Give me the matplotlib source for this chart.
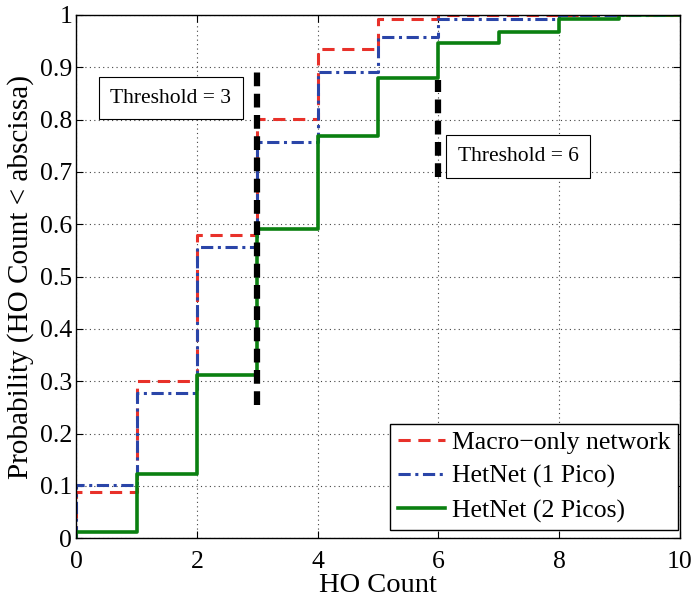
import matplotlib.pyplot as plt
import numpy as np

plt.rcParams['font.family'] = ['Liberation Serif', 'DejaVu Serif']
plt.rcParams['mathtext.fontset'] = 'stix'

# empirical CDF of the handover count, value at each step start
macro_x = [0, 1, 2, 3, 4, 5, 6, 10]
macro_y = [0.089, 0.301, 0.579, 0.802, 0.934, 0.992, 1.0, 1.0]

pico1_x = [0, 1, 2, 3, 4, 5, 6, 8, 10]
pico1_y = [0.101, 0.278, 0.556, 0.757, 0.891, 0.957, 0.992, 1.0, 1.0]

pico2_x = [0, 1, 2, 3, 4, 5, 6, 7, 8, 9, 10]
pico2_y = [0.011, 0.122, 0.311, 0.590, 0.768, 0.879, 0.946, 0.968, 0.992, 1.0, 1.0]

thresholds = [3, 6]
threshold_spans = [(0.255, 0.895), (0.69, 0.875)]


def with_origin(xs, ys):
    return [0] + list(xs), [0] + list(ys)


fig = plt.figure(figsize=(6.93, 5.98), dpi=100)
ax = fig.add_axes([0.110, 0.100, 0.871, 0.875])

x, y = with_origin(macro_x, macro_y)
ax.step(x, y, where='post', color='#e8312a', ls=(0, (4, 2.5)), lw=2.2,
        label='Macro\u2212only network')
x, y = with_origin(pico1_x, pico1_y)
ax.step(x, y, where='post', color='#2a45a8', ls=(0, (4, 1.5, 1, 1.5)), lw=2.2,
        label='HetNet (1 Pico)')
x, y = with_origin(pico2_x, pico2_y)
ax.step(x, y, where='post', color='#0a8010', lw=2.6,
        label='HetNet (2 Picos)')

for t, (lo, hi) in zip(thresholds, threshold_spans):
    ax.plot([t, t], [lo, hi], color='black', ls=(0, (2.2, 1.2)), lw=4.5)

box = dict(boxstyle='square,pad=0.55', fc='white', ec='black', lw=0.8)
ax.text(1.57, 0.841, 'Threshold = 3', fontsize=15.5, ha='center', va='center', bbox=box)
ax.text(7.32, 0.730, 'Threshold = 6', fontsize=15.5, ha='center', va='center', bbox=box)

ax.set_xlim(0, 10)
ax.set_ylim(0, 1)
ax.set_xticks(np.arange(0, 11, 2))
ax.set_yticks(np.round(np.arange(0, 1.01, 0.1), 1))
ax.set_yticklabels(['0', '0.1', '0.2', '0.3', '0.4', '0.5', '0.6', '0.7', '0.8', '0.9', '1'])
ax.tick_params(direction='in', top=True, right=True, labelsize=18.5, length=5, pad=3)
ax.tick_params(axis='x', pad=9)
ax.grid(True, ls=(0, (1, 3)), color='#444444', lw=0.8)
for s in ax.spines.values():
    s.set_linewidth(1.0)

ax.set_xlabel('HO Count', fontsize=20.5, labelpad=0)
ax.set_ylabel('Probability (HO Count < abscissa)', fontsize=21, labelpad=4)

leg = ax.legend(loc='lower right', bbox_to_anchor=(0.997, 0.015), borderaxespad=0,
                fontsize=18.5, fancybox=False, framealpha=1, edgecolor='black',
                handlelength=1.85, handletextpad=0.25, labelspacing=0.42,
                borderpad=0.3)
leg.get_frame().set_linewidth(1.0)

fig.savefig('out.png', dpi=100)
